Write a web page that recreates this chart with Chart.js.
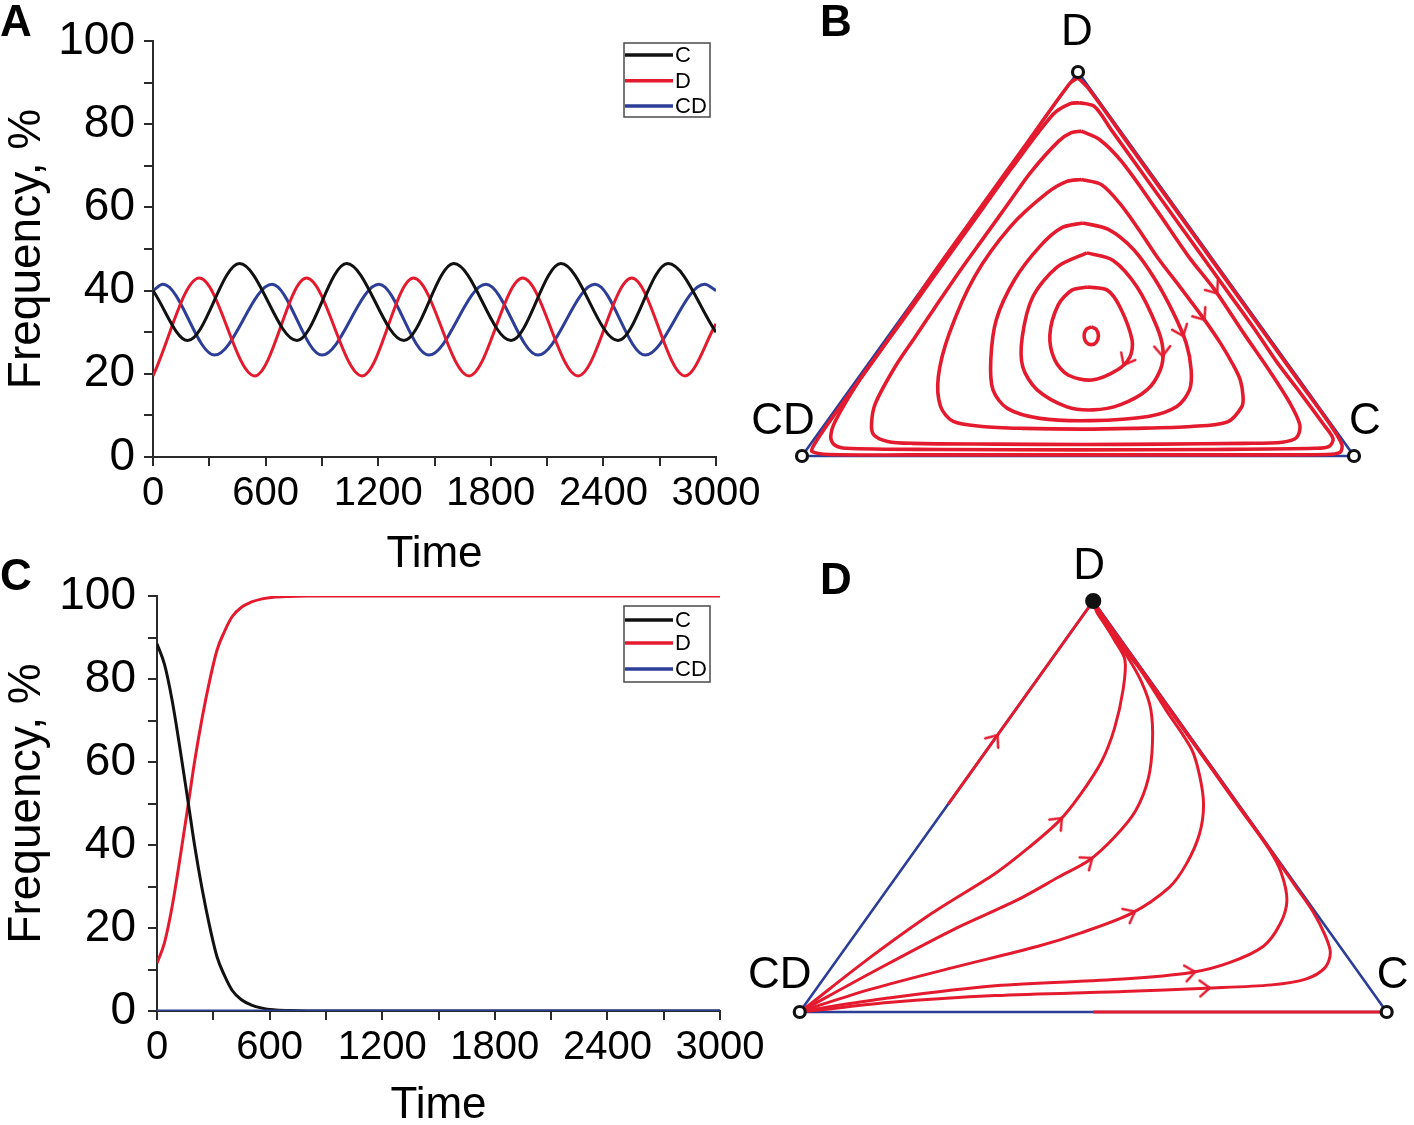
<!DOCTYPE html>
<html>
<head>
<meta charset="utf-8">
<title>Frequency dynamics and simplex trajectories</title>
<script src="https://cdn.jsdelivr.net/npm/chart.js@4.4.1/dist/chart.umd.min.js"></script>
<style>
  html, body { margin: 0; padding: 0; background: #fff; }
  body { position: relative; width: 1414px; height: 1125px; overflow: hidden; font-family: 'Liberation Sans', Arial, sans-serif; }
  canvas { position: absolute; }
  .tag { position: absolute; font: bold 44px 'Liberation Sans', Arial, sans-serif; line-height: 1; color: #000; }
</style>
</head>
<body>
<canvas id="chartA" width="775" height="590" style="left:0;top:0"></canvas>
<canvas id="chartC" width="775" height="600" style="left:0;top:545px"></canvas>
<canvas id="chartB" width="694" height="560" style="left:720px;top:0"></canvas>
<canvas id="chartD" width="694" height="595" style="left:720px;top:530px"></canvas>
<div class="tag" style="left:0;top:-1px">A</div>
<div class="tag" style="left:820px;top:-1px">B</div>
<div class="tag" style="left:0;top:553px">C</div>
<div class="tag" style="left:820px;top:557px">D</div>

<script>
// ---- series labels ----
const seriesNames = ['C', 'D', 'CD'];
const timeTitle = 'Time';
const freqTitle = 'Frequency, %';

// ---- panel A: oscillations (turning points) ----
const timeA_C = [0, 185, 461, 767, 1032, 1337, 1603, 1908, 2174, 2478, 2745, 3000];
const freqA_C = [40, 28, 46.5, 28, 46.5, 28, 46.5, 28, 46.5, 28, 46.5, 30];
const timeA_D = [0, 247, 542, 818, 1114, 1388, 1684, 1970, 2265, 2551, 2835, 3000];
const freqA_D = [19.5, 43, 19.5, 43, 19.5, 43, 19.5, 43, 19.5, 43, 19.5, 32];
const timeA_CD = [0, 53, 328, 634, 900, 1204, 1470, 1774, 2051, 2355, 2622, 2939, 3000];
const freqA_CD = [40, 41.5, 24.5, 41.5, 24.5, 41.5, 24.5, 41.5, 24.5, 41.5, 24.5, 41.5, 40];

// ---- panel C: defectors take over ----
const timeC = [0, 40, 80, 120, 167, 200, 240, 280, 320, 360, 400, 450, 500, 560, 620, 700, 800, 1000, 1500, 2000, 2500, 3000];
const freqC_C = [88.5, 83.5, 75, 64, 50, 40, 29.5, 20.5, 13, 8.5, 5, 2.7, 1.5, 0.7, 0.3, 0.1, 0, 0, 0, 0, 0, 0];
const freqC_D = [11.5, 16.5, 25, 36, 50, 60, 70.5, 79.5, 87, 91.5, 95, 97.3, 98.5, 99.3, 99.7, 99.9, 100, 100, 100, 100, 100, 100];
const freqC_CD = [0, 0, 0, 0, 0, 0, 0, 0, 0, 0, 0, 0, 0, 0, 0, 0, 0, 0, 0, 0, 0, 0];

// ---- simplex frame: CD, C, D corners (x = C + D/2, y = D, in %) ----
const cornerNames = ['CD', 'C', 'D'];
const corners = [[0, 0], [100, 0], [50, 100]];
const triangle = [[0, 0], [100, 0], [50, 100], [0, 0]];

// ---- panel B: closed orbits around the interior point ----
const orbitB1 = [[50,98.5],[52,95.5],[60,79.5],[70,59.5],[80,39.5],[90,19.5],[96,7.5],[97.8,3],[97.5,1],[95,0.4],[75,0.3],[50,0.3],[25,0.3],[5,0.4],[1.8,1.2],[2.3,3.2],[5.5,10],[14.5,28],[25,50],[32.5,65],[40,80],[48.5,97],[50,98.5]];
const orbitB2 = [[50.3,92],[53,91],[56,85],[62,73],[66.5,64],[71.5,54],[77,43],[82,33],[86,24.5],[90.5,16],[94.6,8],[96.2,4.5],[95.5,2.5],[93,2],[75,1.7],[50,1.6],[25,1.7],[8,2],[5.8,3],[5.2,5],[6,9],[10.3,19.5],[14.5,28],[18.8,36.5],[23.5,46],[28.5,56],[33,65],[38,75],[45.5,89],[48.5,91.7],[50.3,92]];
const orbitB3 = [[50.6,84.6],[54,82.3],[58,76.5],[64.5,63.5],[70,52],[74.8,43.2],[80,32],[85,21.5],[88.5,13.5],[90.2,8],[89.6,4.8],[87,3.6],[80,3.3],[65,3.1],[50.9,3],[35,3.1],[20,3.3],[15.5,3.8],[13,5.5],[12.6,8.5],[13.3,13.7],[16.9,23.3],[20.5,31],[24,38.5],[28.5,48],[33,57],[37.5,66],[41.5,74],[46.5,82],[48.8,84.2],[50.6,84.6]];
const orbitB4 = [[50.6,72],[54.2,70.7],[57.5,65.9],[61,59],[64.5,51.5],[68.5,44],[72.5,36.3],[75.8,29.4],[78.2,23.5],[79.4,19.8],[79.9,15.5],[79.7,12.9],[77.1,8.9],[70.5,7.7],[60,7.2],[50.9,7],[40,7.2],[32.6,7.7],[27.4,9],[25.1,12.9],[24.7,20.7],[26.7,32],[31.3,46.8],[37.8,59.8],[44.4,68.5],[48,71.5],[50.6,72]];
const orbitB5 = [[50.9,60.7],[55.5,59],[60.1,53.7],[64,45.9],[67.3,37.2],[69.6,29.4],[70.5,22.4],[70.2,17.2],[67.9,12.9],[62.7,10.3],[52.2,9.2],[43.1,9.8],[37.2,12.4],[34.6,17.2],[34.2,25],[35.2,35.5],[38.5,45.9],[43.1,54.6],[47,59.4],[50.9,60.7]];
const orbitB6 = [[51.6,52.9],[56.3,51],[60.7,44],[64.3,33.6],[65.4,27.6],[64.9,22.4],[62.5,17.2],[57.6,13.3],[52.7,12],[48,12.8],[42.6,17.2],[40,23.2],[39.9,31],[41.8,41.4],[46.2,49.2],[51.6,52.9]];
const orbitB7 = [[51.8,44],[55.3,43.2],[57.6,38.8],[59.8,30.2],[59.4,25.8],[57.1,22.4],[52.5,19.8],[48.2,21.1],[45.8,25],[44.9,31.5],[46.4,39.3],[48.9,43.2],[51.8,44]];
const orbitB8 = [[52.4,33.6],[53.3,33],[53.7,31.3],[53.3,29.6],[52.4,29],[51.5,29.6],[51.1,31.3],[51.5,33],[52.4,33.6]];
const arrowsB = [[74.8,43.2],[72.5,36.3],[68.8,32.2],[65.3,27],[58.6,24.6]];
const headingsB = [54, 55, 68, 88, 118];

// ---- panel D: trajectories from CD into D ----
const pathD0 = [[25.3,50.6],[50,100]];
const pathD1 = [[50,0],[100,0]];
const pathD2 = [[0,0],[1.5,1.6],[11,12.2],[22.5,24],[33.3,33.7],[39.1,40.1],[44.2,46.5],[47.8,52.9],[51.4,60.9],[53.6,68.9],[55.1,78.5],[55.4,85.7],[53.6,90.5],[50.7,97.8],[50,100]];
const pathD3 = [[0,0],[1.5,1.2],[12.5,9.8],[26.1,20],[37,27.2],[44.2,32.9],[49.3,36.9],[53.6,42.5],[57.2,48.9],[59.4,56.9],[60.1,65.7],[59.8,73.7],[58.3,80.1],[55.8,86.5],[52.2,93.8],[50,100]];
const pathD4 = [[0,0],[2,1],[12,5.5],[26.1,10.8],[40.6,16],[47.8,19.2],[56.5,24],[63,30.4],[65.9,36.1],[68.1,43.3],[68.8,50.5],[68.1,57.7],[66.7,64.1],[62.3,73.7],[58,83.3],[53.6,91.3],[50.7,97],[50,100]];
const pathD5 = [[0,0],[3,0.8],[15,3.4],[33.3,6.4],[55.1,8],[66.7,9.6],[73.2,12],[79,16],[81.9,21.6],[83,27.2],[82,34],[80,39.5],[75,49.5],[70,59.5],[65,69.5],[60,79.5],[55,89.5],[51,97.5],[50,100]];
const pathD6 = [[0,0],[4,0.6],[15,2.3],[33.3,4],[55.1,5],[69.2,5.8],[80.4,6.6],[86.2,8],[89.5,10.8],[90.4,14.5],[89.4,19],[87.4,24.5],[84.5,30.5],[80.5,38.8],[75.5,48.8],[70.5,58.8],[65.5,68.8],[60.5,78.8],[55.5,88.8],[51.5,96.8],[50,100]];
const arrowsD = [[33.3,66.6],[44.2,46.5],[49.3,36.9],[56.5,24],[66.7,9.6],[69.2,5.8]];
const headingsD = [-54, -46, -36, -27, -9, -3];

// ---- styling ----
const RED = '#e41b2f';
const BLUE = '#2d3e98';
const BLACK = '#111111';
const AXIS = '#2a2a2a';
const FONT = "'Liberation Sans', Arial, sans-serif";
Chart.defaults.font.family = FONT;
Chart.defaults.color = '#000';

const pts = (arr) => arr.map(([x, y]) => ({ x, y }));

// legend drawn as a framed box inside the plot, like the original figure
function makeBoxLegend(box, rows) {
  return {
    id: 'boxLegend',
    afterDraw(chart) {
      const ctx = chart.ctx;
      const [bx, by, bw, bh] = box;
      ctx.save();
      ctx.fillStyle = '#fff';
      ctx.fillRect(bx, by, bw, bh);
      ctx.strokeStyle = '#4a4a4a';
      ctx.lineWidth = 1.5;
      ctx.strokeRect(bx, by, bw, bh);
      ctx.font = '22px ' + FONT;
      ctx.textBaseline = 'middle';
      chart.data.datasets.forEach((ds, i) => {
        const y = by + rows[i];
        ctx.strokeStyle = ds.borderColor;
        ctx.lineWidth = 3.5;
        ctx.beginPath();
        ctx.moveTo(bx + 1, y);
        ctx.lineTo(bx + 49, y);
        ctx.stroke();
        ctx.fillStyle = '#000';
        ctx.fillText(ds.label, bx + 51, y + 1);
      });
      ctx.restore();
    }
  };
}

function makeTimeChart(id, sets, geo) {
  const datasets = sets.map((s) => ({
    label: s.label,
    data: s.time.map((t, i) => ({ x: t, y: s.freq[i] })),
    borderColor: s.color,
    borderWidth: 3,
    pointRadius: 0,
    fill: false,
    cubicInterpolationMode: 'monotone',
    order: s.order
  }));
  return new Chart(document.getElementById(id), {
    type: 'line',
    data: { datasets },
    options: {
      responsive: false,
      animation: false,
      events: [],
      layout: { padding: { top: geo.top, right: geo.right, left: 0, bottom: 0 } },
      plugins: { legend: { display: false }, tooltip: { enabled: false } },
      scales: {
        x: {
          type: 'linear', min: 0, max: 3000,
          ticks: {
            stepSize: 300, autoSkip: false, maxRotation: 0, color: '#000',
            font: { size: 40 }, padding: geo.xPad,
            callback: (v) => (v % 600 === 0 ? String(v) : '')
          },
          grid: { drawOnChartArea: false, tickLength: 9, lineWidth: 2, color: AXIS },
          border: { color: AXIS, width: 2 },
          title: { display: true, text: timeTitle, color: '#000', font: { size: 44 }, padding: { top: 0, bottom: geo.titlePad } },
          afterFit: (s) => { s.height = geo.xHeight; }
        },
        y: {
          min: 0, max: 100,
          ticks: {
            stepSize: 10, autoSkip: false, color: '#000',
            font: { size: 46 }, padding: geo.yPad,
            callback: (v) => (v % 20 === 0 ? String(v) : '')
          },
          grid: { drawOnChartArea: false, tickLength: 9, lineWidth: 2, color: AXIS },
          border: { color: AXIS, width: 2 },
          title: { display: true, text: freqTitle, color: '#000', font: { size: 46 }, padding: { top: 0, bottom: 0 } },
          afterFit: (s) => { s.width = geo.yWidth; }
        }
      }
    },
    plugins: [makeBoxLegend(geo.box, geo.rows)]
  });
}

// corner names drawn next to the simplex vertices
function makeCornerLabels(offsets) {
  return {
    id: 'cornerLabels',
    afterDraw(chart) {
      const { ctx, scales: { x, y } } = chart;
      ctx.save();
      ctx.font = '44px ' + FONT;
      ctx.fillStyle = '#000';
      ctx.textAlign = 'center';
      ctx.textBaseline = 'middle';
      cornerNames.forEach((name, i) => {
        const px = x.getPixelForValue(corners[i][0]) + offsets[i][0];
        const py = y.getPixelForValue(corners[i][1]) + offsets[i][1];
        ctx.fillText(name, px, py);
      });
      ctx.restore();
    }
  };
}

function chevron(color) {
  const c = document.createElement('canvas');
  c.width = 24;
  c.height = 24;
  const g = c.getContext('2d');
  g.strokeStyle = color;
  g.lineWidth = 2.4;
  g.lineCap = 'round';
  g.beginPath();
  g.moveTo(6, 4);
  g.lineTo(16, 12);
  g.lineTo(6, 20);
  g.stroke();
  return c;
}

const curve = (arr, w, tension) => ({
  data: pts(arr), showLine: true, borderColor: RED, borderWidth: w,
  pointRadius: 0, tension, fill: false, order: 5
});

function makeSimplexChart(id, geo, curves, arrows, headings, cornerFill, cornerRadius, labelOffsets) {
  const datasets = [
    { data: pts(triangle), showLine: true, borderColor: BLUE, borderWidth: 2.6, pointRadius: 0, tension: 0, order: 10 },
    ...curves,
    { data: pts(arrows), showLine: false, pointStyle: chevron(RED), pointRotation: headings, pointRadius: 6, order: 2 },
    {
      data: pts(corners), showLine: false, pointStyle: 'circle', pointRadius: cornerRadius,
      pointBackgroundColor: cornerFill, pointBorderColor: BLACK, pointBorderWidth: 3.2, order: 0
    }
  ];
  return new Chart(document.getElementById(id), {
    type: 'scatter',
    data: { datasets },
    options: {
      responsive: false,
      animation: false,
      events: [],
      layout: { padding: geo.padding },
      plugins: { legend: { display: false }, tooltip: { enabled: false } },
      scales: {
        x: { type: 'linear', min: geo.x[0], max: geo.x[1], display: false },
        y: { type: 'linear', min: geo.y[0], max: geo.y[1], display: false }
      }
    },
    plugins: [makeCornerLabels(labelOffsets)]
  });
}

// ---- build panels ----
makeTimeChart('chartA', [
  { label: seriesNames[0], time: timeA_C, freq: freqA_C, color: BLACK, order: 1 },
  { label: seriesNames[1], time: timeA_D, freq: freqA_D, color: RED, order: 2 },
  { label: seriesNames[2], time: timeA_CD, freq: freqA_CD, color: BLUE, order: 3 }
], { top: 41, right: 59, xHeight: 133, yWidth: 153, xPad: 4, yPad: 9, titlePad: 8.6,
     box: [624, 43, 86, 74], rows: [12, 37.7, 63] });

makeTimeChart('chartC', [
  { label: seriesNames[0], time: timeC, freq: freqC_C, color: BLACK, order: 2 },
  { label: seriesNames[1], time: timeC, freq: freqC_D, color: RED, order: 3 },
  { label: seriesNames[2], time: timeC, freq: freqC_CD, color: BLUE, order: 1 }
], { top: 51, right: 55, xHeight: 134, yWidth: 157, xPad: 3.5, yPad: 12, titlePad: 12.6,
     box: [624, 61, 86, 76], rows: [14, 37, 63] });

makeSimplexChart('chartB',
  { padding: { left: 54.4, right: 32.4, top: 41.28, bottom: 57.92 }, x: [-5, 105], y: [-12, 108] },
  [orbitB1, orbitB2, orbitB3, orbitB4, orbitB5, orbitB6, orbitB7, orbitB8].map((o) => curve(o, 3.6, 0.3)),
  arrowsB, headingsB, ['#fff', '#fff', '#fff'], [5.5, 5.5, 5.5],
  [[-19, -34], [11, -34], [-1, -39]]);

makeSimplexChart('chartD',
  { padding: { left: 50.4, right: 4.24, top: 54.56, bottom: 80.12 }, x: [-5, 103], y: [-8, 104] },
  [curve(pathD0, 3, 0), curve(pathD1, 3, 0),
   ...[pathD2, pathD3, pathD4, pathD5, pathD6].map((p) => curve(p, 3, 0.3))],
  arrowsD, headingsD, ['#fff', '#fff', BLACK], [5.5, 5.5, 6.5],
  [[-20, -36], [6, -36], [-4, -34]]);
</script>
</body>
</html>
